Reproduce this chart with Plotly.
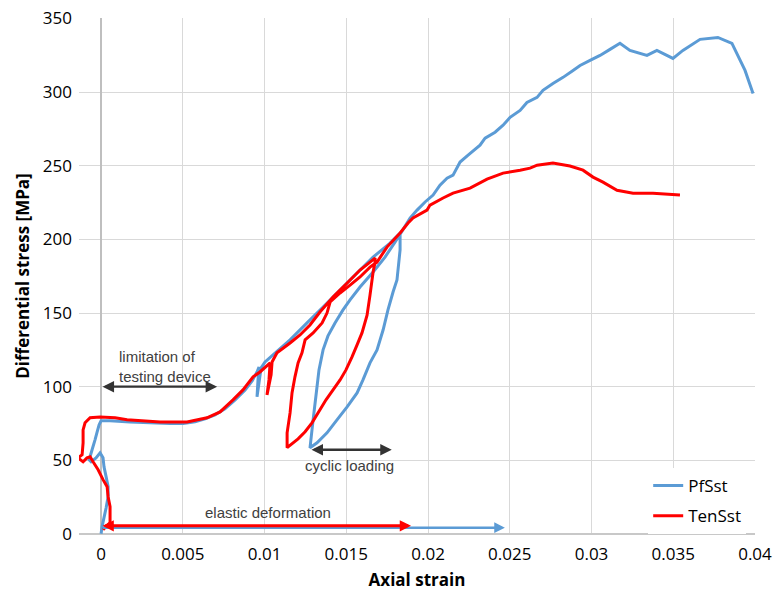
import plotly.graph_objects as go

# ---------------- data ----------------
x_tickvals = [0, 0.005, 0.01, 0.015, 0.02, 0.025, 0.03, 0.035, 0.04]
x_ticktext = ["0", "0.005", "0.01", "0.015", "0.02", "0.025", "0.03", "0.035", "0.04"]
y_tickvals = [0, 50, 100, 150, 200, 250, 300, 350]

pfsst_strain = [
    0, 0.00006, 0.00018, 0.00031, 0.00043, 0.00043, 0.00031, 0.00018, 0.00012, -0.00006,
    -0.00031, -0.00061, -0.00073, -0.00055, -0.00037, -0.00024, -0.00012, 0,
    0.00055, 0.00177, 0.003, 0.00422, 0.00502, 0.00575, 0.00636, 0.00697, 0.00758, 0.0082,
    0.00881, 0.00924, 0.00954, 0.00966, 0.0096, 0.00954, 0.00966, 0.00979, 0.01003, 0.01052,
    0.01156, 0.0126, 0.01358, 0.01462, 0.01566, 0.01664, 0.01768, 0.01829,
    0.01829, 0.0181, 0.01786, 0.01755, 0.01725, 0.01688, 0.01645, 0.01602, 0.01566, 0.01505,
    0.01443, 0.01382, 0.01321, 0.01278,
    0.01297, 0.01315, 0.01333, 0.01358, 0.01388, 0.01431, 0.0148, 0.01523, 0.01584, 0.01664,
    0.01737, 0.01798, 0.01841,
    0.0189, 0.01933, 0.01982, 0.02031, 0.02073, 0.02116, 0.02153, 0.02196, 0.02245, 0.02318,
    0.02349, 0.0241, 0.02459, 0.02502, 0.02563, 0.02605, 0.02667, 0.02703, 0.02764, 0.02826,
    0.02887, 0.0293, 0.02991, 0.03052, 0.03113, 0.03174, 0.03235, 0.03339, 0.034, 0.03498,
    0.03559, 0.03664, 0.03773, 0.03859, 0.03939, 0.03988,
]
pfsst_stress = [
    0.2, 4.9, 11.1, 17.8, 25.3, 32.1, 38.8, 45.6, 51.7, 55.1,
    51.7, 49.0, 50.4, 57.2, 63.9, 69.4, 74.1, 76.8,
    76.8, 76.1, 75.5, 75.0, 75.0, 76.1, 78.2, 80.9, 85.0, 91.1,
    97.8, 104.0, 110.0, 113.4, 104.6, 93.1, 102.6, 112.8, 116.8, 121.6,
    131.8, 143.3, 154.1, 165.6, 177.2, 188.0, 197.5, 204.3,
    192.8, 172.4, 164.3, 152.1, 138.5, 124.9, 116.2, 104.6, 95.8, 86.3,
    77.5, 68.7, 61.9, 58.5,
    77.5, 94.4, 111.4, 125.0, 134.5, 143.3, 152.1, 158.9, 167.7, 177.9,
    188.0, 198.2, 205.6,
    214.5, 219.9, 225.4, 230.1, 236.8, 241.6, 243.6, 252.5, 257.2, 264.0,
    268.7, 272.8, 277.5, 282.9, 287.6, 293.0, 296.4, 301.2, 305.9, 310.0,
    314.7, 318.1, 321.5, 324.9, 329.0, 333.1, 328.3, 324.9, 328.3, 322.9,
    328.3, 335.8, 337.1, 333.1, 314.7, 299.1,
]

tensst_strain = [
    0.00012, 0.00055, 0.00055, 0.00055, 0.00043, 0.00037, 0.00012, -0.00018, -0.00049, -0.00067,
    -0.00086, -0.0011, -0.00141, -0.00116, -0.0011, -0.0011, -0.00098, -0.00067, -0.00006, 0.00086,
    0.00159, 0.00361, 0.00526, 0.00648, 0.00728, 0.00807, 0.00868, 0.0093, 0.00972, 0.01034,
    0.01027, 0.01015, 0.0104, 0.01046,
    0.01076, 0.01156, 0.01217, 0.01278, 0.01339, 0.01419, 0.01505, 0.01584, 0.01676,
    0.01676, 0.01664, 0.01645, 0.01627, 0.01596, 0.01566, 0.01535, 0.01498, 0.01462, 0.01419,
    0.01376, 0.01339, 0.0129, 0.01248, 0.01205, 0.01144,
    0.01138, 0.01138, 0.01156, 0.01168, 0.01186, 0.01205, 0.01229, 0.01248, 0.01297, 0.01352,
    0.01382, 0.01401, 0.01462, 0.01523, 0.01584, 0.01645, 0.01688,
    0.01749, 0.01829, 0.01878, 0.01908, 0.01994, 0.02012, 0.02092, 0.02153, 0.02257, 0.02361,
    0.02459, 0.02563, 0.02624, 0.02667, 0.02764, 0.02868, 0.02948, 0.03009, 0.0307, 0.03156,
    0.03254, 0.03376, 0.03541,
]
tensst_stress = [
    2.9, 7.7, 11.7, 18.5, 25.3, 32.1, 36.9, 43.6, 49.0, 52.4,
    51.7, 49.0, 51.7, 53.8, 61.9, 70.7, 75.5, 78.9, 79.5, 78.9,
    77.5, 76.1, 76.1, 78.9, 82.9, 91.1, 97.8, 106.7, 110.0, 116.2,
    104.6, 94.4, 108.0, 116.8,
    123.0, 129.7, 135.1, 141.9, 150.7, 160.9, 170.4, 179.2, 187.3,
    184.6, 177.9, 162.2, 148.6, 136.5, 128.4, 120.2, 111.4, 104.6, 97.8,
    91.1, 84.3, 75.5, 69.4, 64.6, 59.2,
    58.5, 68.7, 82.2, 95.8, 106.7, 116.2, 123.0, 131.8, 136.5, 143.3,
    150.0, 157.5, 163.6, 169.0, 174.5, 181.2, 184.6,
    194.8, 204.3, 211.1, 214.5, 219.9, 223.3, 228.1, 231.4, 234.8, 240.9,
    245.0, 247.0, 248.4, 250.4, 251.8, 249.8, 247.0, 242.3, 238.9, 233.4,
    231.4, 231.4, 230.1,
]

# annotation arrows: (start strain, end strain, stress)
limit_arrow = (0.0, 0.0071, 100)
cyclic_arrow = (0.01278, 0.01778, 57.2)
elastic_red_arrow = (0.0, 0.01896, 5.6)
elastic_blue_arrow = (0.0, 0.0247, 4.3)

BLUE = "#5b9bd5"
RED = "#ff0000"
GRID = "#d9d9d9"
ANN = "#404040"
ARROW = "#333333"

fig = go.Figure()
fig.add_trace(go.Scatter(x=pfsst_strain, y=pfsst_stress, mode="lines", name="PfSst",
                         legendgroup="a",
                         line=dict(color=BLUE, width=3, simplify=False)))
fig.add_trace(go.Scatter(x=tensst_strain, y=tensst_stress, mode="lines", name="TenSst",
                         legendgroup="b",
                         line=dict(color=RED, width=3, simplify=False)))


def arrow(start, end, yv, color, width, size, both=True):
    fig.add_annotation(x=end, y=yv, ax=start, ay=yv, xref="x", yref="y",
                       axref="x", ayref="y", text="", showarrow=True,
                       arrowhead=2, startarrowhead=2, arrowsize=size, startarrowsize=size,
                       arrowwidth=width, arrowcolor=color,
                       arrowside="end+start" if both else "end",
                       standoff=0, startstandoff=0)


arrow(*limit_arrow, ARROW, 2.3, 1.0)
arrow(*cyclic_arrow, ARROW, 2.3, 1.0)
arrow(*elastic_blue_arrow, BLUE, 2.5, 0.85, both=False)
arrow(*elastic_red_arrow, RED, 3, 0.75)

ann_font = dict(family="Liberation Sans, Arial, sans-serif", size=15, color=ANN)
fig.add_annotation(x=0.00098, y=120.2, xref="x", yref="y", text="limitation of",
                   showarrow=False, xanchor="left", font=ann_font)
fig.add_annotation(x=0.00098, y=106.6, xref="x", yref="y", text="testing device",
                   showarrow=False, xanchor="left", font=ann_font)
fig.add_annotation(x=0.01517, y=46.3, xref="x", yref="y", text="cyclic loading",
                   showarrow=False, font=ann_font)
fig.add_annotation(x=0.01021, y=14.4, xref="x", yref="y", text="elastic deformation",
                   showarrow=False, font=ann_font)

fig.update_layout(
    width=776, height=591,
    margin=dict(l=79, r=21, t=18, b=57),
    paper_bgcolor="white", plot_bgcolor="white",
    font=dict(family="Open Sans, sans-serif", size=17, color="black"),
    legend=dict(x=0.842, xanchor="left", y=0, yanchor="bottom", bgcolor="white",
                font=dict(size=17), borderwidth=0, tracegroupgap=5,
                traceorder="grouped"),
    xaxis=dict(range=[-0.00135, 0.04], tickvals=x_tickvals, ticktext=x_ticktext,
               automargin=False, ticklabeloverflow="allow",
               showgrid=True, gridcolor=GRID, gridwidth=1.3,
               zeroline=True, zerolinecolor="#bfbfbf", zerolinewidth=2,
               ticks="", ticklabelstandoff=8, showline=False,
               title=dict(text="<b>Axial strain</b>", font=dict(size=17), standoff=11)),
    yaxis=dict(range=[0, 350.3], tickvals=y_tickvals, showgrid=True, gridcolor=GRID,
               automargin=False, ticklabeloverflow="allow",
               gridwidth=1.3, zeroline=True, zerolinecolor="#c8c8c8", zerolinewidth=1.5,
               ticks="", ticklabelstandoff=6, showline=False,
               title=dict(text="<b>Differential stress [MPa]</b>", font=dict(size=17), standoff=8)),
)

# remove the default 8 px page margin so the 776x591 figure fills the window exactly
fig.write_html("out.html", config={"displayModeBar": False},
               post_script="document.body.style.margin='0px';")
